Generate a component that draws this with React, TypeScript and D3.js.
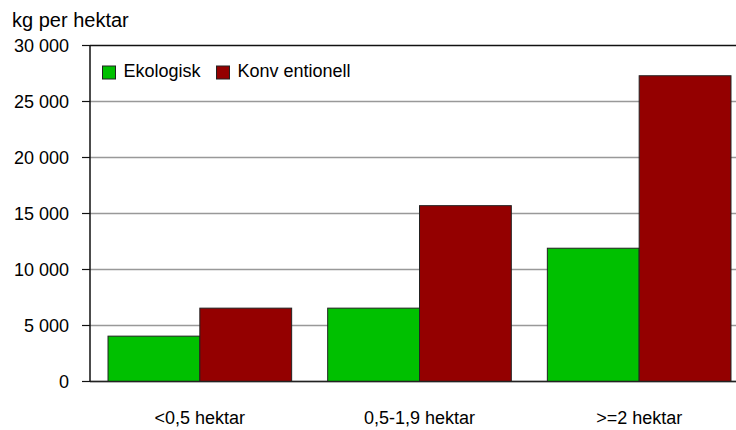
import React from "react";
import * as d3 from "d3";

const categories = ["<0,5 hektar", "0,5-1,9 hektar", ">=2 hektar"];
const seriesNames = ["Ekologisk", "Konv entionell"];
const ekologisk = [4050, 6550, 11900];
const konventionell = [6550, 15700, 27300];
const yTicks = [0, 5000, 10000, 15000, 20000, 25000, 30000];
const colors = ["#00c000", "#940000"];

const W = 736, H = 430;
const left = 90, right = 749, top = 45.5, bottom = 381.5;

export default function App() {
  const x = d3.scaleBand<string>().domain(categories).range([left, right]).paddingInner(0.164).paddingOuter(0.082);
  const xs = d3.scaleBand<string>().domain(["0", "1"]).range([0, x.bandwidth()]);
  const y = d3.scaleLinear().domain([0, 30000]).range([bottom, top]);
  const fmt = (v: number) => d3.format(",")(v).replace(/,/g, " ");
  const series = [ekologisk, konventionell];
  const font = "'Liberation Sans', Arial, sans-serif";
  return (
    <svg width={W} height={H} style={{ position: "absolute", left: 0, top: 0, background: "#fff" }} fontFamily={font}>
      <text x={12} y={26.5} fontSize={20} fill="#000">kg per hektar</text>
      {yTicks.map((t) => (
        <g key={t}>
          <line x1={left} x2={W} y1={y(t)} y2={y(t)} stroke={t === 30000 ? "#111" : "#999"} strokeWidth={1.5} />
          <line x1={left - 8} x2={left} y1={y(t)} y2={y(t)} stroke="#111" strokeWidth={1.2} />
          <text x={69} y={y(t) + 6} fontSize={18} textAnchor="end" fill="#000">{fmt(t)}</text>
        </g>
      ))}
      {categories.map((c, i) => (
        <g key={c}>
          {series.map((s, j) => (
            <rect key={j} x={(x(c) ?? 0) + (xs(String(j)) ?? 0)} y={y(s[i])} width={xs.bandwidth()} height={bottom - y(s[i])}
              fill={colors[j]} stroke="#222" strokeWidth={1} />
          ))}
          <text x={(x(c) ?? 0) + x.bandwidth() / 2} y={424} fontSize={18} textAnchor="middle" fill="#000">{c}</text>
        </g>
      ))}
      <line x1={left} x2={W} y1={bottom} y2={bottom} stroke="#222" strokeWidth={1.5} />
      <line x1={left} x2={left} y1={top} y2={bottom} stroke="#111" strokeWidth={1.5} />
      {seriesNames.map((n, j) => {
        const lx = j === 0 ? 102.5 : 216.5;
        return (
          <g key={n}>
            <rect x={lx} y={66} width={13} height={13} fill={colors[j]} stroke="#222" strokeWidth={1} />
            <text x={lx + 21} y={77} fontSize={18} fill="#000">{n}</text>
          </g>
        );
      })}
    </svg>
  );
}
